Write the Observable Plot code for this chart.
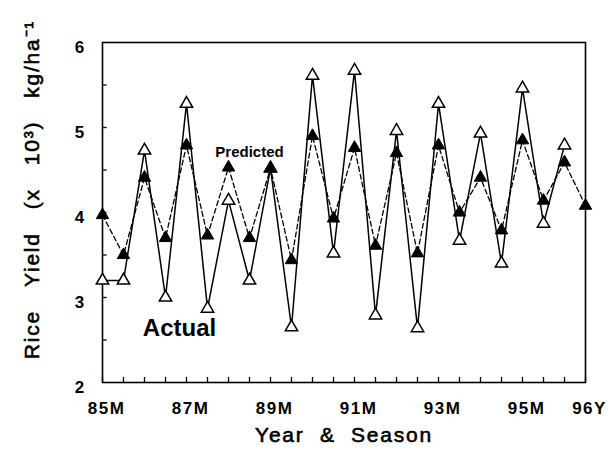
<!DOCTYPE html>
<html>
<head>
<meta charset="utf-8">
<script src="https://cdn.jsdelivr.net/npm/d3@7"></script>
<script src="https://cdn.jsdelivr.net/npm/@observablehq/plot@0.6"></script>
<style>
  html, body { margin: 0; padding: 0; background: #fff; }
  #chart svg { display: block; }
</style>
</head>
<body>
<div id="chart"></div>
<script>
// Seasons (M = main, Y = second season), 1985–1996
const seasons = ["85M","85Y","86M","86Y","87M","87Y","88M","88Y","89M","89Y","90M","90Y",
                 "91M","91Y","92M","92Y","93M","93Y","94M","94Y","95M","95Y","96M","96Y"];
// Rice yield (x 10^3 kg/ha)
const actual    = [3.20,3.20,4.73,3.00,5.28,2.87,4.14,3.20,4.52,2.65,5.61,3.52,
                   5.67,2.79,4.96,2.64,5.28,3.67,4.93,3.40,5.46,3.87,4.79,null];
const predicted = [3.97,3.50,4.41,3.70,4.79,3.73,4.53,3.70,4.52,3.44,4.90,3.93,
                   4.76,3.61,4.70,3.52,4.79,4.00,4.41,3.79,4.85,4.14,4.59,4.08];
const xTickLabels = ["85M","87M","89M","91M","93M","95M","96Y"];
const yTickLabels = [2,3,4,5,6];
const yMinorTicks = [2.5,3,3.5,4,4.5,5,5.5];
const xTitle = "Year\u00A0\u00A0&\u00A0\u00A0Season";
const yTitle = "Rice\u00A0\u00A0\u00A0Yield\u00A0\u00A0\u00A0(x\u00A0\u00A0\u00A010\u00B3)\u00A0\u00A0\u00A0kg/ha\u207B\u00B9";
const predictedLabel = [{season: "88Y", value: 4.71, text: "Predicted"}];
const actualLabel = [{season: "87M", value: 2.64, text: "Actual"}];

const idx = s => seasons.indexOf(s);
const actualData = seasons.map((s, i) => ({i, v: actual[i]})).filter(d => d.v != null);
const predData = seasons.map((s, i) => ({i, v: predicted[i]}));
const font = "Liberation Sans, Arial, Helvetica, sans-serif";

const chart = Plot.plot({
  width: 614,
  height: 462,
  marginTop: 42,
  marginBottom: 80,
  marginLeft: 102,
  marginRight: 29,
  style: {fontFamily: font, background: "#fff", color: "#000"},
  x: {type: "linear", domain: [0, seasons.length - 1], axis: null},
  y: {type: "linear", domain: [2, 6], axis: null},
  marks: [
    Plot.frame({stroke: "#000", strokeWidth: 1.6}),
    // inward x ticks at every season
    Plot.ruleX(seasons.map((s, i) => i), {x: d => d, y1: 2, y2: 2.06, stroke: "#000", strokeWidth: 1.3}),
    // inward y ticks
    Plot.ruleY(yMinorTicks, {y: d => d, x1: 0, x2: 0.22, stroke: "#000", strokeWidth: 1.3}),
    // x tick labels
    Plot.text(xTickLabels, {x: d => idx(d), text: d => d, frameAnchor: "bottom", dy: 31,
      fontSize: 17, fontWeight: "bold", dx: 4}),
    // y tick labels
    Plot.text(yTickLabels, {y: d => d, text: d => String(d), frameAnchor: "left", dx: -23, dy: 5,
      fontSize: 17, fontWeight: "bold", textAnchor: "middle"}),
    // axis titles
    Plot.text([xTitle], {text: d => d, frameAnchor: "bottom", dy: 59,
      fontSize: 21, fontWeight: "normal", stroke: "#000", strokeWidth: 0.6, fill: "#000"}),
    Plot.text([yTitle], {text: d => d, frameAnchor: "left", textAnchor: "middle", y: () => 4.27, dx: -70, rotate: -90,
      fontSize: 21, fontWeight: "normal", stroke: "#000", strokeWidth: 0.6, fill: "#000"}),
    // series lines
    Plot.line(predData, {x: "i", y: "v", stroke: "#000", strokeWidth: 1.3, strokeDasharray: "5,3"}),
    Plot.line(actualData, {x: "i", y: "v", stroke: "#000", strokeWidth: 1.5}),
    // symbols
    Plot.dot(actualData, {x: "i", y: "v", symbol: "triangle", r: 4.6, fill: "#fff", stroke: "#000", strokeWidth: 1.5}),
    Plot.dot(predData, {x: "i", y: "v", symbol: "triangle", r: 4.6, fill: "#000", stroke: "#000", strokeWidth: 1}),
    // annotations
    Plot.text(predictedLabel, {x: d => idx(d.season), y: "value", text: "text", fontSize: 15,
      fontWeight: "bold", fill: "#000"}),
    Plot.text(actualLabel, {x: d => idx(d.season), y: "value", text: "text", fontSize: 24, dx: -7,
      fontWeight: "bold", fill: "#000"})
  ]
});
// widen the letter spacing of the titles and tick labels, as in the scanned figure
d3.select(chart).selectAll("text").filter(function() {
  const t = this.textContent; return t === xTitle || t === yTitle;
}).attr("letter-spacing", "1.8px");
d3.select(chart).selectAll("text").filter(function() {
  return xTickLabels.includes(this.textContent);
}).attr("letter-spacing", "1.5px");
document.getElementById("chart").appendChild(chart);
</script>
</body>
</html>
